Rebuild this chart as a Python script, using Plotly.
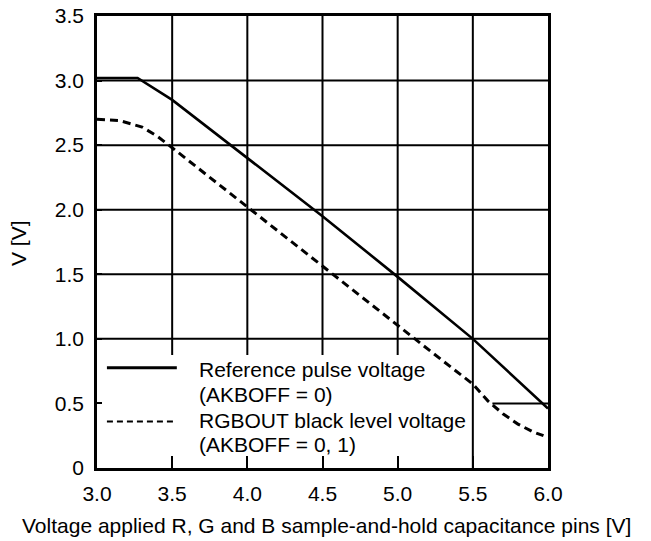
import plotly.graph_objects as go

# ---- data ----
ref_x = [3.0, 3.27, 3.5, 4.0, 4.5, 5.0, 5.5, 6.0]
ref_y = [3.02, 3.02, 2.85, 2.40, 1.95, 1.48, 1.00, 0.46]

blk_x = [3.0, 3.15, 3.3, 3.4, 3.5, 4.0, 4.5, 5.0, 5.3, 5.5, 5.6, 5.7, 5.8, 5.9, 5.97]
blk_y = [2.70, 2.69, 2.64, 2.57, 2.48, 2.02, 1.56, 1.10, 0.83, 0.65, 0.52, 0.42, 0.34, 0.28, 0.25]

x_ticks = [3.0, 3.5, 4.0, 4.5, 5.0, 5.5, 6.0]
x_tick_labels = ["3.0", "3.5", "4.0", "4.5", "5.0", "5.5", "6.0"]
y_ticks = [0, 0.5, 1.0, 1.5, 2.0, 2.5, 3.0, 3.5]
y_tick_labels = ["0", "0.5", "1.0", "1.5", "2.0", "2.5", "3.0", "3.5"]

legend_names = ["Reference pulse voltage", "(AKBOFF = 0)",
                "RGBOUT black level voltage", "(AKBOFF = 0, 1)"]
x_title = "Voltage applied R, G and B sample-and-hold capacitance pins [V]"
y_title = "V [V]"

FONT = "Liberation Sans, Arial, Helvetica, sans-serif"
FS = 21

fig = go.Figure()
fig.add_trace(go.Scatter(x=ref_x, y=ref_y, mode="lines",
                         line=dict(color="black", width=2.6), showlegend=False))
fig.add_trace(go.Scatter(x=blk_x, y=blk_y, mode="lines",
                         line=dict(color="black", width=3, dash="8px,5px"),
                         showlegend=False))

shapes = []
# horizontal grid lines
for yv in y_ticks[2:-1]:
    shapes.append(dict(type="line", xref="x", yref="y", x0=3.0, x1=6.0, y0=yv, y1=yv,
                       line=dict(color="black", width=2), layer="below"))
shapes.append(dict(type="line", xref="x", yref="y", x0=5.63, x1=6.0, y0=0.5, y1=0.5,
                   line=dict(color="black", width=2), layer="below"))
# vertical grid lines
for xv in x_ticks[1:5]:
    shapes.append(dict(type="line", xref="x", yref="y", x0=xv, x1=xv, y0=0.875, y1=3.5,
                       line=dict(color="black", width=2), layer="below"))
shapes.append(dict(type="line", xref="x", yref="y", x0=5.5, x1=5.5, y0=0, y1=3.5,
                   line=dict(color="black", width=2), layer="below"))

# legend samples
shapes.append(dict(type="line", xref="paper", yref="paper", x0=0.022, x1=0.177,
                   y0=0.222, y1=0.222, line=dict(color="black", width=3)))
shapes.append(dict(type="line", xref="paper", yref="paper", x0=0.022, x1=0.177,
                   y0=0.103, y1=0.103, line=dict(color="black", width=2, dash="6px,4px")))

annotations = []
leg_y = [0.217, 0.162, 0.106, 0.053]
for name, yy in zip(legend_names, leg_y):
    annotations.append(dict(text=name, xref="paper", yref="paper", x=0.222, y=yy,
                            xanchor="left", yanchor="middle", showarrow=False,
                            font=dict(family=FONT, size=FS, color="black")))
# axis titles
annotations.append(dict(text=x_title, xref="paper", yref="paper", x=(326 - 97) / 451,
                        y=-(525 - 468) / 452, xanchor="center", yanchor="middle",
                        showarrow=False, font=dict(family=FONT, size=FS, color="black")))
annotations.append(dict(text=y_title, xref="paper", yref="paper", x=-(97 - 18) / 451,
                        y=(468 - 243) / 452, xanchor="center", yanchor="middle",
                        textangle=-90, showarrow=False,
                        font=dict(family=FONT, size=FS, color="black")))

fig.update_layout(
    width=651, height=541,
    margin=dict(l=89, r=111, t=8, b=81),
    paper_bgcolor="white", plot_bgcolor="white",
    font=dict(family=FONT, size=FS, color="black"),
    shapes=shapes, annotations=annotations,
    xaxis=dict(range=[3.0, 6.0], tickvals=x_ticks, ticktext=x_tick_labels,
               showgrid=False, zeroline=False, showline=True, linecolor="black",
               linewidth=2.5, mirror=True, ticks="inside", ticklen=12, tickwidth=2,
               tickcolor="black", ticklabelstandoff=5, automargin=False,
               ticklabeloverflow="allow"),
    yaxis=dict(range=[0, 3.5], tickvals=y_ticks, ticktext=y_tick_labels,
               showgrid=False, zeroline=False, showline=True, linecolor="black",
               linewidth=2.5, mirror=True, ticks="inside", ticklen=5, tickwidth=2,
               tickcolor="black", ticklabelstandoff=6, automargin=False,
               ticklabeloverflow="allow"),
)

fig.write_html("out.html")
